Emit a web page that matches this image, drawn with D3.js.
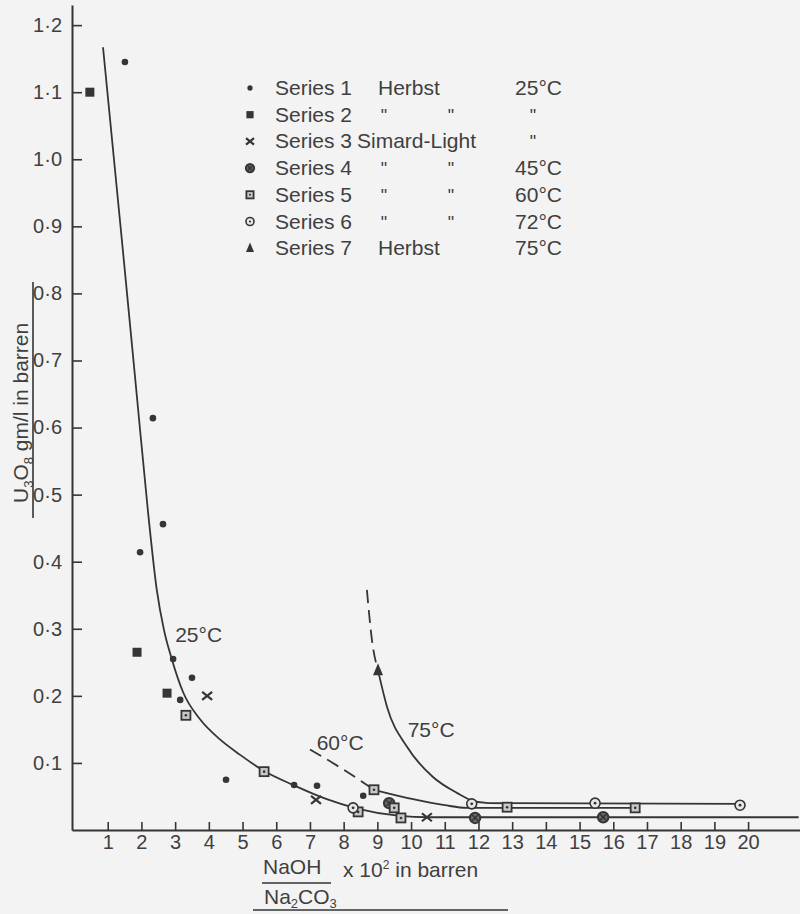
<!DOCTYPE html>
<html><head><meta charset="utf-8">
<script src="https://cdn.jsdelivr.net/npm/d3@7"></script>
<style>
html,body{margin:0;padding:0;background:#f3f3f3;}
svg{display:block;}
text{font-family:"Liberation Sans", Arial, sans-serif; fill:#3f3f3f;}
</style></head><body>
<svg id="chart" width="800" height="914"></svg>
<script>
// ---- data ----
const xTickValues = [1,2,3,4,5,6,7,8,9,10,11,12,13,14,15,16,17,18,19,20];
const yTickValues = [0.1,0.2,0.3,0.4,0.5,0.6,0.7,0.8,0.9,1.0,1.1,1.2];

const series1 = [[1.51,1.145],[1.96,0.414],[2.34,0.614],[2.64,0.456],[2.94,0.255],[3.15,0.194],[3.50,0.227],[4.51,0.075],[6.53,0.067],[7.21,0.066],[8.58,0.051]];
const series2 = [[0.47,1.10],[1.87,0.265],[2.76,0.204]];
const series3 = [[3.95,0.20],[7.18,0.045],[10.47,0.019]];
const series4 = [[9.35,0.040],[11.9,0.018],[15.7,0.019]];
const series5 = [[3.32,0.171],[5.64,0.087],[8.43,0.027],[8.9,0.060],[9.5,0.033],[9.7,0.018],[12.85,0.034],[16.65,0.033]];
const series6 = [[8.28,0.033],[11.8,0.039],[15.46,0.040],[19.76,0.037]];
const series7 = [[9.02,0.238]];

const curve25 = [[0.86,1.167],[1.45,0.864],[1.84,0.66],[2.2,0.472],[2.45,0.36],[2.67,0.298],[2.9,0.255],[3.24,0.205],[3.74,0.165],[4.33,0.135],[4.93,0.112],[5.64,0.088],[6.51,0.067],[7.5,0.046],[8.4,0.032],[9.67,0.021],[10.5,0.019],[21.5,0.019]];
const curve60Dashed = [[7.0,0.12],[7.9,0.093],[8.9,0.06]];
const curve60 = [[8.9,0.06],[10.06,0.046],[11.0,0.037],[11.66,0.033],[16.65,0.033]];
const curve75Dashed = [[8.69,0.358],[8.84,0.283],[9.02,0.238]];
const curve75 = [[9.02,0.238],[9.29,0.183],[9.88,0.124],[10.65,0.079],[11.37,0.055],[11.75,0.045],[12.3,0.040],[19.76,0.039]];

const curveLabels = ["25°C","60°C","75°C"];
const curveLabelAnchors = [[3.0,0.28],[7.2,0.12],[9.9,0.138]];

const legendSeries = ["Series 1","Series 2","Series 3","Series 4","Series 5","Series 6","Series 7"];
const legendSource = ["Herbst","ditto","Simard-Light","ditto","ditto","ditto","Herbst"];
const legendTemp = ["25°C","ditto","ditto","45°C","60°C","72°C","75°C"];
const legendSymbols = ["dot","square","cross","circleX","squareDot","circleDot","triangle"];

// ---- drawing ----
const ink = "#353535";
const svg = d3.select("#chart");
const x = d3.scaleLinear().domain([-0.06, 21.54]).range([72, 800]);
const y = d3.scaleLinear().domain([0, 1.23]).range([830, 5]);

// axes
const xAxis = d3.axisBottom(x).tickValues(xTickValues).tickSizeInner(-8).tickSizeOuter(0).tickPadding(5).tickFormat(d3.format("d"));
const gx = svg.append("g").attr("transform","translate(0,830)").call(xAxis);
const yAxis = d3.axisLeft(y).tickValues(yTickValues).tickSizeInner(-10).tickSizeOuter(0).tickPadding(10)
  .tickFormat(d => d3.format(".1f")(d).replace(".", "·"));
const gy = svg.append("g").attr("transform","translate(72,0)").call(yAxis);
[gx, gy].forEach(g => {
  g.select(".domain").attr("stroke", ink).attr("stroke-width", 2);
  g.selectAll(".tick line").attr("stroke", ink).attr("stroke-width", 1.6);
  g.selectAll(".tick text").attr("font-size", 20).attr("fill", "#3f3f3f").attr("font-family", '"Liberation Sans", Arial, sans-serif');
});

// curves
const line = d3.line().x(d => x(d[0])).y(d => y(d[1])).curve(d3.curveMonotoneX);
const drawCurve = (data, dashed) => svg.append("path").datum(data).attr("d", line)
  .attr("fill","none").attr("stroke", ink).attr("stroke-width", 1.8)
  .attr("stroke-dasharray", dashed ? "13,7" : null);
drawCurve(curve25, false);
drawCurve(curve60Dashed, true);
drawCurve(curve60, false);
drawCurve(curve75Dashed, true);
drawCurve(curve75, false);

// symbols
function symbol(g, type, cx, cy, s) {
  const k = s || 1;
  if (type === "dot") {
    g.append("circle").attr("cx",cx).attr("cy",cy).attr("r",3.3*k).attr("fill",ink);
  } else if (type === "square") {
    g.append("rect").attr("x",cx-4.5*k).attr("y",cy-4.5*k).attr("width",9*k).attr("height",9*k).attr("fill",ink);
  } else if (type === "cross") {
    const a = 5*k;
    g.append("path").attr("d",`M${cx-a},${cy-a*0.8}L${cx+a},${cy+a*0.8}M${cx-a},${cy+a*0.8}L${cx+a},${cy-a*0.8}`)
      .attr("stroke",ink).attr("stroke-width",2.2).attr("fill","none");
  } else if (type === "circleX") {
    const r = 5.2*k;
    g.append("circle").attr("cx",cx).attr("cy",cy).attr("r",r).attr("fill","#6a6a6a").attr("stroke",ink).attr("stroke-width",2);
    const a = r*0.55;
    g.append("path").attr("d",`M${cx-a},${cy-a}L${cx+a},${cy+a}M${cx-a},${cy+a}L${cx+a},${cy-a}`).attr("stroke",ink).attr("stroke-width",1.5);
  } else if (type === "squareDot") {
    g.append("rect").attr("x",cx-4.5*k).attr("y",cy-4.5*k).attr("width",9*k).attr("height",9*k).attr("fill","#c8c8c8").attr("stroke",ink).attr("stroke-width",1.8);
    g.append("circle").attr("cx",cx).attr("cy",cy).attr("r",1.3*k).attr("fill",ink);
  } else if (type === "circleDot") {
    g.append("circle").attr("cx",cx).attr("cy",cy).attr("r",5*k).attr("fill","#e8e8e8").attr("stroke",ink).attr("stroke-width",1.6);
    g.append("circle").attr("cx",cx).attr("cy",cy).attr("r",1.4*k).attr("fill",ink);
  } else if (type === "triangle") {
    const h = 12*k, w = 10*k;
    g.append("path").attr("d",`M${cx},${cy-h*0.6}L${cx+w/2},${cy+h*0.4}L${cx-w/2},${cy+h*0.4}Z`).attr("fill",ink);
  }
}
const gm = svg.append("g");
const allSeries = [series1, series2, series3, series4, series5, series6, series7];
allSeries.forEach((s, i) => s.forEach(d => symbol(gm, legendSymbols[i], x(d[0]), y(d[1]))));

// curve labels
curveLabels.forEach((t, i) => {
  svg.append("text").attr("x", x(curveLabelAnchors[i][0])).attr("y", y(curveLabelAnchors[i][1]))
    .attr("font-size", 21).text(t);
});

// legend
const lg = svg.append("g");
legendSeries.forEach((name, i) => {
  const cy = 88 + i * 26.7;
  symbol(lg, legendSymbols[i], 250, cy, 0.8);
  lg.append("text").attr("x", 275).attr("y", cy + 7).attr("font-size", 21).text(name);
  const src = legendSource[i];
  if (src === "ditto") {
    [384, 451].forEach(px => lg.append("text").attr("x", px).attr("y", cy + 7).attr("font-size", 18).attr("text-anchor","middle").text('"'));
  } else {
    lg.append("text").attr("x", src === "Herbst" ? 378 : 357).attr("y", cy + 7).attr("font-size", 21).text(src);
  }
  const tp = legendTemp[i];
  if (tp === "ditto") {
    lg.append("text").attr("x", 533).attr("y", cy + 7).attr("font-size", 18).attr("text-anchor","middle").text('"');
  } else {
    lg.append("text").attr("x", 562).attr("y", cy + 7).attr("font-size", 21).attr("text-anchor","end").text(tp);
  }
});

// y axis title
const yt = svg.append("text").attr("transform","translate(28,503) rotate(-90)").attr("font-size", 21);
yt.append("tspan").text("U");
yt.append("tspan").attr("font-size", 13).attr("dy", 5).text("3");
yt.append("tspan").attr("dy", -5).text("O");
yt.append("tspan").attr("font-size", 13).attr("dy", 5).text("8");
yt.append("tspan").attr("dy", -5).text(" gm/l  in  barren");
svg.append("line").attr("x1",33).attr("x2",33).attr("y1",282).attr("y2",518).attr("stroke",ink).attr("stroke-width",1.6);

// x axis title
svg.append("text").attr("x", 263).attr("y", 874).attr("font-size", 21).text("NaOH");
svg.append("line").attr("x1",262).attr("x2",331).attr("y1",883).attr("y2",883).attr("stroke",ink).attr("stroke-width",1.6);
const nt = svg.append("text").attr("x", 264).attr("y", 904).attr("font-size", 21);
nt.append("tspan").text("Na");
nt.append("tspan").attr("font-size", 13).attr("dy", 4).text("2");
nt.append("tspan").attr("dy", -4).text("CO");
nt.append("tspan").attr("font-size", 13).attr("dy", 4).text("3");
const xt = svg.append("text").attr("x", 343).attr("y", 877).attr("font-size", 21);
xt.append("tspan").text("x 10");
xt.append("tspan").attr("font-size", 12).attr("dy", -8).text("2");
xt.append("tspan").attr("dy", 8).text(" in barren");
svg.append("line").attr("x1",253).attr("x2",508).attr("y1",910).attr("y2",910).attr("stroke",ink).attr("stroke-width",1.6);
</script>
</body></html>
